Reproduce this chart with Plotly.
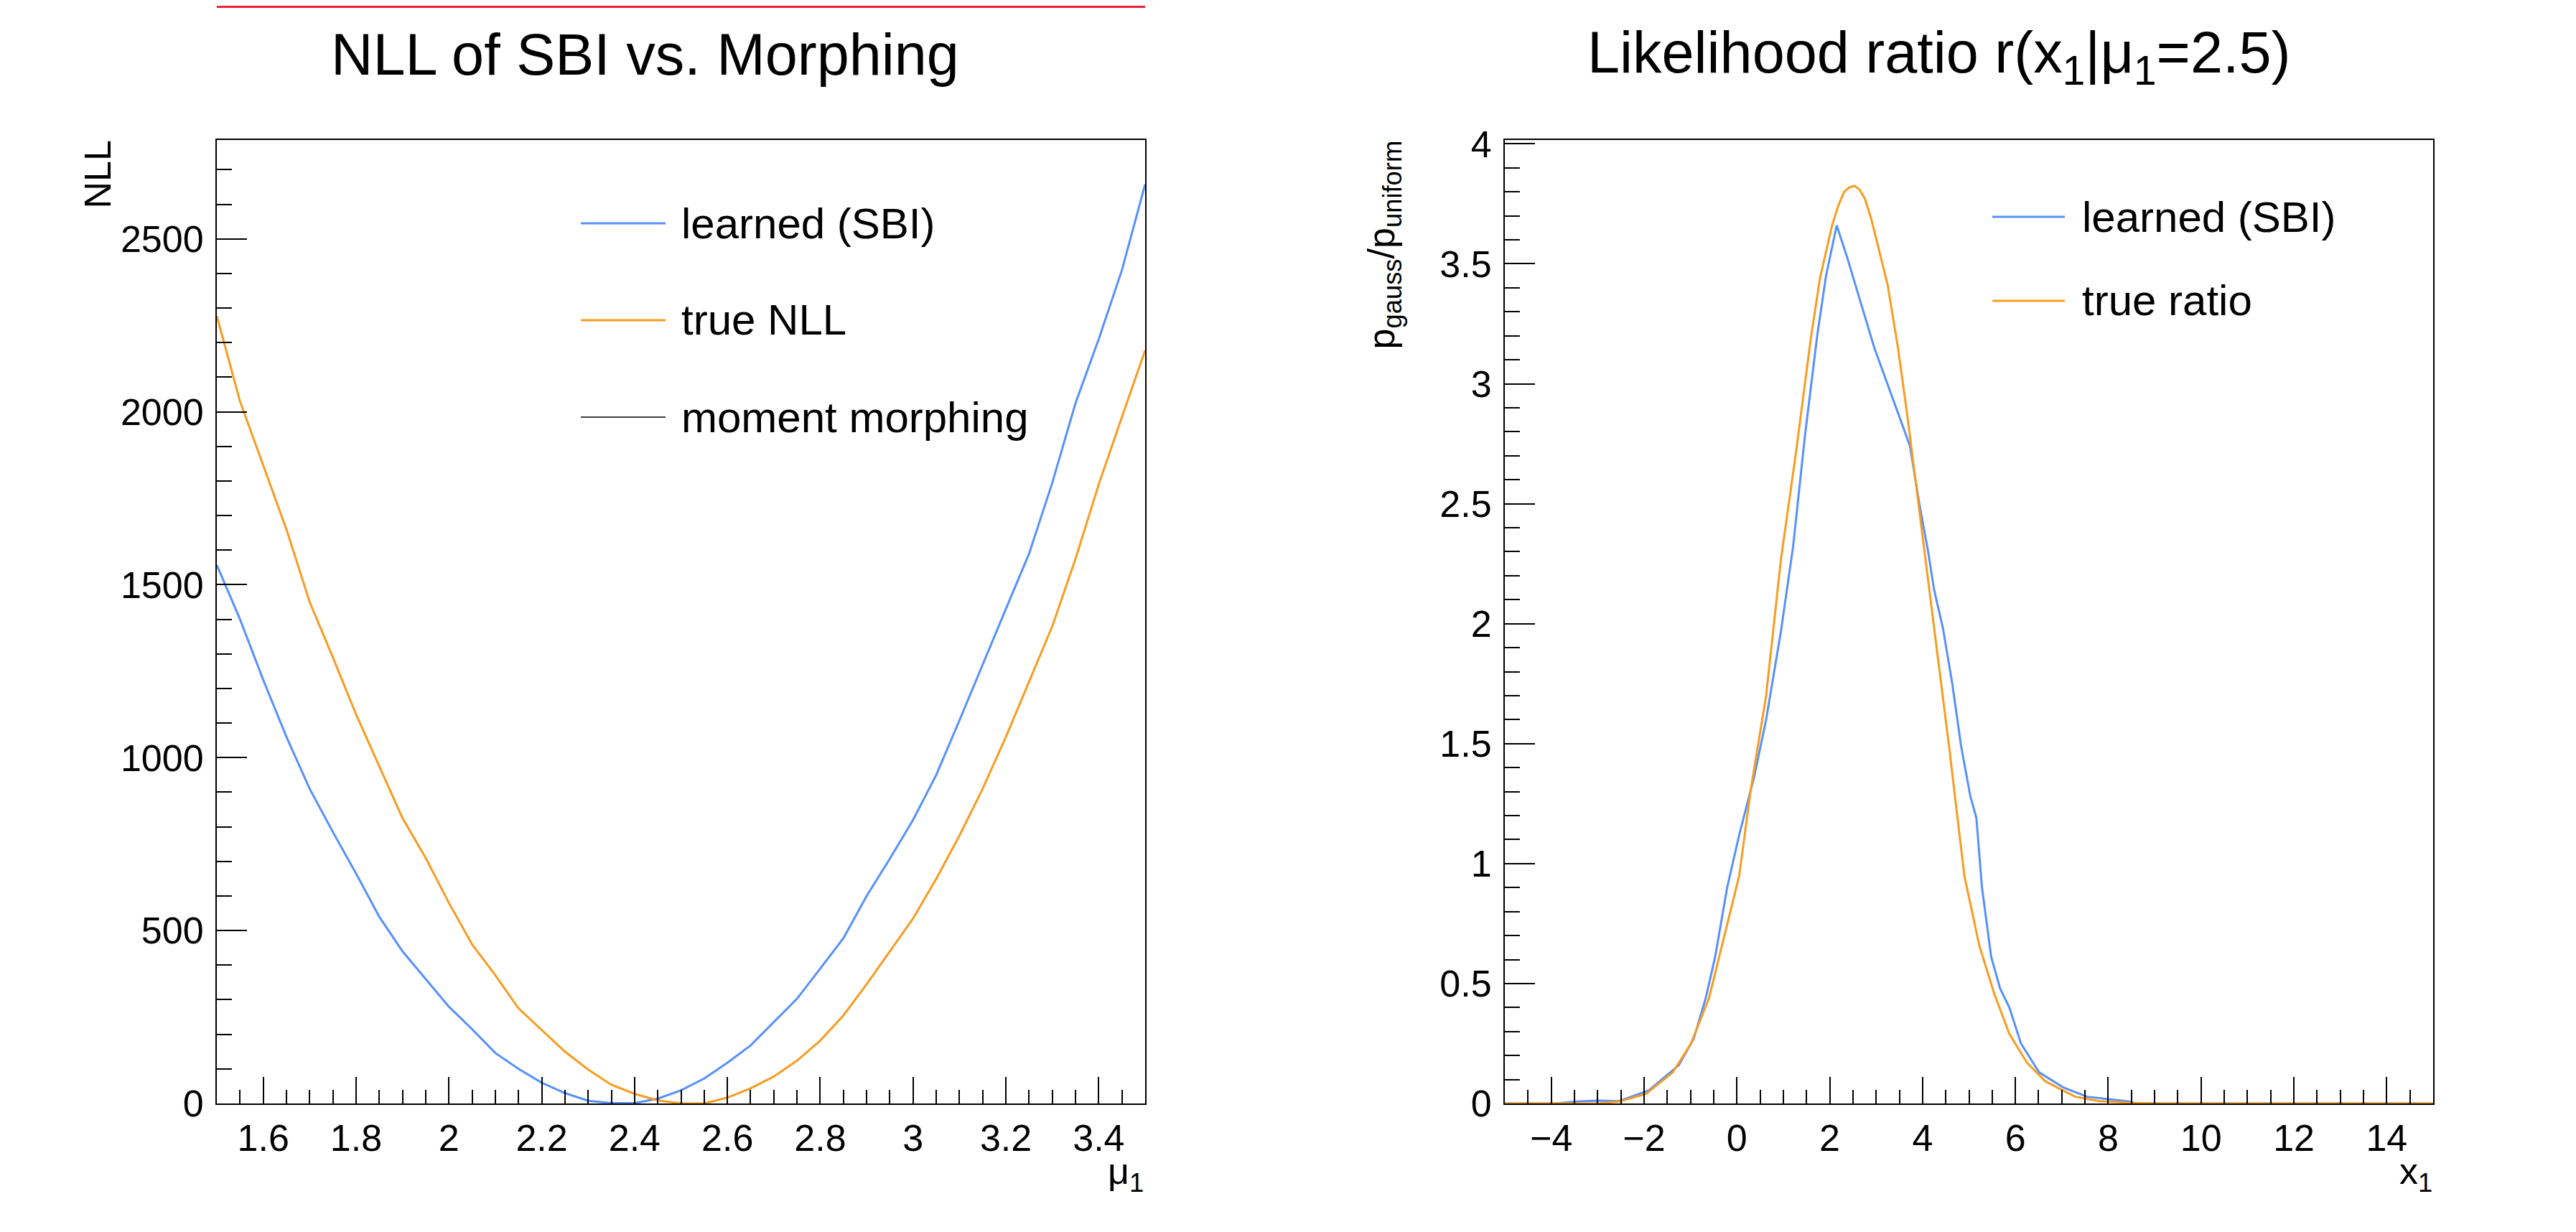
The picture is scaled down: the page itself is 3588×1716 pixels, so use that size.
import plotly.graph_objects as go

W, H = 3588, 1716

# left panel: NLL scan
mu = [1.50, 1.55, 1.60, 1.65, 1.70, 1.75, 1.80, 1.85, 1.90, 1.95,
      2.00, 2.05, 2.10, 2.15, 2.20, 2.25, 2.30, 2.35, 2.40, 2.45,
      2.50, 2.55, 2.60, 2.65, 2.70, 2.75, 2.80, 2.85, 2.90, 2.95,
      3.00, 3.05, 3.10, 3.15, 3.20, 3.25, 3.30, 3.35, 3.40, 3.45, 3.50]
nll_sbi = [1557, 1400, 1225, 1060, 910, 785, 665, 540, 440, 360,
           280, 215, 146, 100, 60, 30, 8, 1, 1, 14,
           38, 72, 118, 168, 236, 303, 390, 478, 600, 708,
           820, 950, 1108, 1270, 1430, 1590, 1795, 2025, 2210, 2410, 2658]
nll_true = [2277, 2030, 1845, 1660, 1450, 1290, 1125, 975, 825, 710,
            580, 460, 371, 275, 212, 150, 98, 54, 28, 9,
            0, 0, 17, 44, 78, 124, 182, 255, 345, 440,
            535, 650, 775, 910, 1060, 1220, 1380, 1575, 1790, 1985, 2178]

# right panel: likelihood ratio
x_sbi = [-5, -3.9, -3.45, -3.0, -2.54, -1.9, -1.25, -0.93, -0.67, -0.47,
         -0.21, 0.05, 0.37, 0.63, 0.95, 1.21, 1.47, 1.73, 1.92, 2.15,
         2.37, 2.63, 2.96, 3.28, 3.54, 3.73, 3.93, 4.12, 4.25, 4.44,
         4.64, 4.83, 5.03, 5.16, 5.28, 5.48, 5.67, 5.87, 6.12, 6.51,
         7.03, 7.55, 8.45, 8.6, 15]
r_sbi = [0, 0, 0.008, 0.012, 0.01, 0.054, 0.16, 0.27, 0.44, 0.61,
         0.90, 1.12, 1.36, 1.60, 1.97, 2.32, 2.79, 3.20, 3.45, 3.66,
         3.53, 3.36, 3.15, 2.98, 2.84, 2.74, 2.50, 2.30, 2.14, 1.98,
         1.75, 1.49, 1.28, 1.19, 0.90, 0.61, 0.48, 0.40, 0.25, 0.13,
         0.067, 0.028, 0.008, 0, 0]
x_true = [-5, -3, -2.54, -1.96, -1.38, -0.99, -0.6, -0.28, 0.05, 0.30,
          0.63, 0.95, 1.27, 1.60, 1.79, 2.05, 2.18, 2.31, 2.42, 2.53,
          2.64, 2.76, 2.89, 3.02, 3.25, 3.47, 3.67, 3.86, 4.08, 4.31,
          4.57, 4.90, 5.22, 5.54, 5.87, 6.25, 6.64, 7.29, 7.81, 8.45,
          9.0, 15]
r_true = [0, 0, 0.008, 0.04, 0.13, 0.25, 0.44, 0.69, 0.95, 1.31,
          1.70, 2.27, 2.71, 3.20, 3.44, 3.66, 3.74, 3.80, 3.818, 3.825,
          3.81, 3.77, 3.69, 3.59, 3.41, 3.15, 2.87, 2.58, 2.24, 1.88,
          1.49, 0.95, 0.66, 0.46, 0.29, 0.17, 0.093, 0.028, 0.010, 0.003,
          0, 0]

BLUE = "#5790fc"
ORANGE = "#f89c20"
RED = "#e42536"
FONT = "Liberation Sans"


def px(x):
    return x / W


def py(y):
    return 1 - y / H


fig = go.Figure()
fig.add_trace(go.Scatter(x=mu, y=nll_sbi, mode="lines", line=dict(color=BLUE, width=3),
                         xaxis="x", yaxis="y", name="learned (SBI)"))
fig.add_trace(go.Scatter(x=mu, y=nll_true, mode="lines", line=dict(color=ORANGE, width=3),
                         xaxis="x", yaxis="y", name="true NLL"))
fig.add_trace(go.Scatter(x=x_sbi, y=r_sbi, mode="lines", line=dict(color=BLUE, width=3),
                         xaxis="x2", yaxis="y2", name="learned (SBI)"))
fig.add_trace(go.Scatter(x=x_true, y=r_true, mode="lines", line=dict(color=ORANGE, width=3),
                         xaxis="x2", yaxis="y2", name="true ratio"))

tickfont = dict(family=FONT, size=52, color="black")
common = dict(showgrid=False, zeroline=False, showline=True, mirror=True,
              linecolor="black", linewidth=2, ticks="inside", tickwidth=2,
              tickcolor="black", tickfont=tickfont, automargin=False)

ydom = [py(1529), py(187)]
fig.update_layout(
    width=W, height=H, margin=dict(l=0, r=0, t=0, b=0, pad=0, autoexpand=False),
    paper_bgcolor="white", plot_bgcolor="white", showlegend=False,
    xaxis=dict(domain=[px(294), px(1587)], range=[1.5, 3.5], dtick=0.2, tick0=0,
               ticklen=37, ticklabelstandoff=2, anchor="y",
               minor=dict(dtick=0.05, ticks="inside", ticklen=19, tickwidth=2, tickcolor="black"),
               **common),
    yaxis=dict(domain=ydom, range=[0, 2786], dtick=500, ticklen=42, ticklabelstandoff=6,
               anchor="x",
               minor=dict(dtick=100, ticks="inside", ticklen=21, tickwidth=2, tickcolor="black"),
               **common),
    xaxis2=dict(domain=[px(2088), px(3381)], range=[-5, 15], dtick=2, tick0=0,
                ticklen=37, ticklabelstandoff=2, anchor="y2",
                minor=dict(dtick=0.5, ticks="inside", ticklen=19, tickwidth=2, tickcolor="black"),
                **common),
    yaxis2=dict(domain=ydom, range=[0, 4.016], dtick=0.5, ticklen=42, ticklabelstandoff=6,
                anchor="x2",
                minor=dict(dtick=0.1, ticks="inside", ticklen=21, tickwidth=2, tickcolor="black"),
                **common),
)

ann = []


def text(x, y, s, size, xanchor="center", yanchor="middle", angle=0):
    ann.append(dict(x=px(x), y=py(y), xref="paper", yref="paper", text=s, showarrow=False,
                    xanchor=xanchor, yanchor=yanchor, textangle=angle,
                    font=dict(family=FONT, size=size, color="black")))


# titles
text(890, 68, "NLL of SBI vs. Morphing", 81)
text(2692, 71, "Likelihood ratio r(x<sub>1</sub>|μ<sub>1</sub>=2.5)", 81)

# axis titles
text(128, 186, "NLL", 52, yanchor="top", angle=-90)
text(1920, 186, "p<sub>gauss</sub>/p<sub>uniform</sub>", 52, yanchor="top", angle=-90)
text(1587, 1592, "μ<sub>1</sub>", 52, xanchor="right", yanchor="top")
text(3382, 1592, "x<sub>1</sub>", 52, xanchor="right", yanchor="top")

shapes = []

# legends drawn by hand
left_leg = [("learned (SBI)", BLUE, 3, 303), ("true NLL", ORANGE, 3, 438),
            ("moment morphing", "black", 1.5, 573)]
for label, col, lw, yy in left_leg:
    shapes.append(dict(type="line", xref="paper", yref="paper", x0=px(801), x1=px(919),
                       y0=py(yy), y1=py(yy), line=dict(color=col, width=lw)))
    text(939, yy, label, 60, xanchor="left")

right_leg = [("learned (SBI)", BLUE, 3, 294), ("true ratio", ORANGE, 3, 411)]
for label, col, lw, yy in right_leg:
    shapes.append(dict(type="line", xref="paper", yref="paper", x0=px(2767), x1=px(2868),
                       y0=py(yy), y1=py(yy), line=dict(color=col, width=lw)))
    text(2890, yy, label, 60, xanchor="left")

# red strip at the very top of the left pad
shapes.append(dict(type="line", xref="paper", yref="paper", x0=px(294), x1=px(1587),
                   y0=py(1.5), y1=py(1.5), line=dict(color=RED, width=3)))

fig.update_layout(annotations=ann, shapes=shapes)

fig.write_html("out.html")
